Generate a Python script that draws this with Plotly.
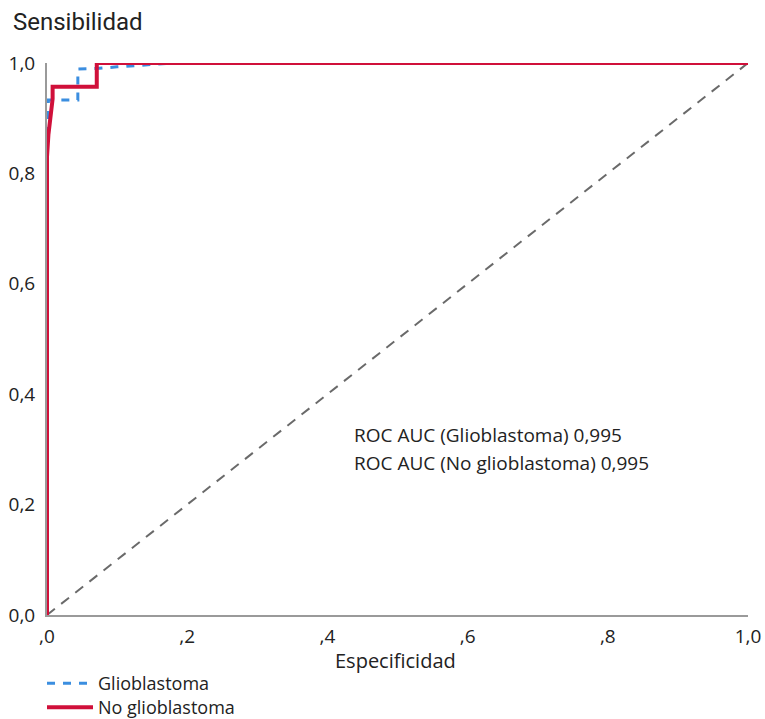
import plotly.graph_objects as go

# Data
diag_x = [0, 1]
diag_y = [0, 1]
glio_x = [0, 0, 0.002, 0.044, 0.044, 0.07, 0.10, 0.14, 0.17, 0.23, 1.0]
glio_y = [0, 0.85, 0.933, 0.933, 0.989, 0.990, 0.993, 0.997, 0.999, 1.0, 1.0]
noglio_x = [0, 0, 0.002, 0.005, 0.008, 0.008, 0.071, 0.071, 1.0]
noglio_y = [0, 0.83, 0.87, 0.91, 0.935, 0.957, 0.957, 1.0, 1.0]
x_tickvals = [0, 0.2, 0.4, 0.6, 0.8, 1.0]
x_ticktext = [",0", ",2", ",4", ",6", ",8", "1,0"]
y_tickvals = [0, 0.2, 0.4, 0.6, 0.8, 1.0]
y_ticktext = ["0,0", "0,2", "0,4", "0,6", "0,8", "1,0"]
auc_labels = ["ROC AUC (Glioblastoma) 0,995", "ROC AUC (No glioblastoma) 0,995"]

FONT = "Open Sans"
W, H = 765, 719
ML, MR, MT, MB = 47, 17, 63, 104
PW, PH = W - ML - MR, H - MT - MB

fig = go.Figure()
fig.add_trace(go.Scatter(x=diag_x, y=diag_y, mode="lines", showlegend=False,
                         line=dict(color="#6a6a6a", width=2, dash="10px,8px"), hoverinfo="skip"))
fig.add_trace(go.Scatter(x=glio_x, y=glio_y, mode="lines", name="Glioblastoma", legend="legend",
                         line=dict(color="#3b8ee0", width=3, dash="8px,8px")))
fig.add_trace(go.Scatter(x=noglio_x, y=noglio_y, mode="lines", name="No glioblastoma", legend="legend2",
                         line=dict(color="#d0103a", width=4)))

leg_common = dict(xref="container", yref="container", x=42 / W,
                  xanchor="left", yanchor="top",
                  font=dict(size=18, family=FONT, color="#222"),
                  bgcolor="rgba(0,0,0,0)", itemwidth=46)

fig.update_layout(
    width=W, height=H,
    margin=dict(l=ML, r=MR, t=MT, b=MB, autoexpand=False),
    paper_bgcolor="white", plot_bgcolor="white",
    font=dict(family=FONT, size=19, color="#222"),
    xaxis=dict(range=[0, 1], tickvals=x_tickvals, ticktext=x_ticktext, automargin=False,
               showgrid=False, zeroline=False, showline=True, linecolor="#9a9a9a",
               linewidth=2, ticks="", ticklabelstandoff=3,
               tickfont=dict(size=19, family=FONT, color="#222")),
    yaxis=dict(range=[0, 1], tickvals=y_tickvals, ticktext=y_ticktext, automargin=False,
               showgrid=False, zeroline=False, showline=True, linecolor="#9a9a9a",
               linewidth=2, ticks="", ticklabelstandoff=6,
               tickfont=dict(size=19, family=FONT, color="#222")),
    showlegend=True,
    legend=dict(y=1 - 665 / H, **leg_common),
    legend2=dict(y=1 - 689 / H, **leg_common),
)

fig.add_annotation(text="Sensibilidad", xref="paper", yref="paper",
                   x=(11 - ML) / PW, y=1 + (MT - 22) / PH,
                   xanchor="left", yanchor="middle", showarrow=False,
                   font=dict(family="Roboto", size=24, color="#222"))
fig.add_annotation(text="Especificidad", xref="paper", yref="paper",
                   x=0.497, y=-(660 - (MT + PH)) / PH, xanchor="center", yanchor="middle",
                   showarrow=False, font=dict(size=20, family=FONT, color="#222"))
for i, t in enumerate(auc_labels):
    fig.add_annotation(text=t, xref="x", yref="y", x=0.435, y=0.326 - i * 0.051,
                       xanchor="left", yanchor="middle", showarrow=False,
                       font=dict(size=19, family=FONT, color="#222"))

fig.write_html("out.html")
